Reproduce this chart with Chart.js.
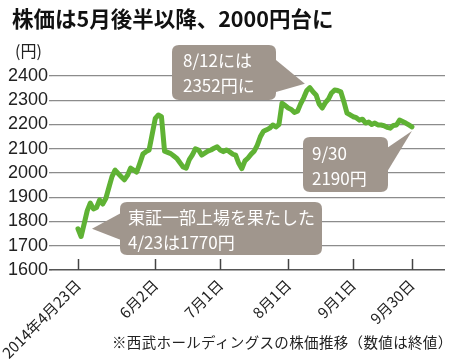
<!DOCTYPE html>
<html><head><meta charset="utf-8">
<script src="https://cdn.jsdelivr.net/npm/chart.js@4"></script>
<style>
html,body{margin:0;padding:0;background:#fff}
#wrap{position:relative;width:450px;height:359px;overflow:hidden;background:#fff}
canvas{position:absolute;left:0;top:0}
.txt{position:absolute;white-space:nowrap;font-family:"Noto Sans CJK JP","Noto Sans",sans-serif;color:#222;line-height:1}
.call{position:absolute;white-space:nowrap;font-family:"Noto Sans CJK JP","Noto Sans",sans-serif;color:#fff;font-size:17px;line-height:25px;font-weight:400}
</style></head>
<body><div id="wrap">
<canvas id="c" width="450" height="359"></canvas>
<div class="txt" style="left:12px;top:7px;font-size:21.5px;font-weight:700;color:#111">株価は5月後半以降、2000円台に</div>
<div class="txt" style="left:15px;top:42px;font-size:16px">(円)</div>
<div class="txt" style="left:112px;top:335px;font-size:14.5px;letter-spacing:0.35px">※西武ホールディングスの株価推移（数値は終値）</div>
<div class="call" style="left:183px;top:47px">8/12には<br>2352円に</div>
<div class="call" style="left:312px;top:140px">9/30<br>2190円</div>
<div class="call" style="left:128px;top:204px">東証一部上場を果たした<br>4/23は1770円</div>
</div>
<script>
// trading-day index (0 = 2014/4/23) and closing prices
const prices = [
1770,1738,1790,1845,1876,1852,1858,1889,1872,1895,
1940,1985,2012,1998,1985,1972,1990,2020,2012,2004,
2040,2078,2088,2095,2160,2225,2239,2232,2090,2085,
2080,2070,2060,2042,2025,2020,2055,2075,2100,2095,
2074,2082,2090,2095,2102,2108,2095,2088,2095,2088,
2078,2074,2040,2018,2050,2062,2078,2090,2115,2150,
2172,2178,2185,2198,2190,2200,2288,2278,2268,2262,
2250,2255,2285,2310,2340,2352,2335,2322,2285,2268,
2290,2305,2330,2342,2340,2335,2294,2247,2240,2232,
2228,2218,2222,2206,2210,2200,2206,2198,2198,2195,
2188,2185,2196,2198,2218,2212,2206,2198,2190];
const tickIdx = [0,25,46,68,89,108];
const tickLabels = ['2014年4月23日','6月2日','7月1日','8月1日','9月1日','9月30日'];
const yTicks = [1600,1700,1800,1900,2000,2100,2200,2300,2400];

const points = prices.map((v,i)=>({x:i,y:v}));

const callouts = [
  {box:[172,45,104,55], idx:75, tri:[[276,60],[-5,-4],[276,92]]},
  {box:[303,137,85,55], idx:108, tri:[[387,148],[0,4],[387,172]]},
  {box:[120,202,202,53], idx:0, tri:[[121,213],[14,0],[121,240]]}
];

function rrect(ctx,x,y,w,h,r){
  ctx.beginPath();
  ctx.moveTo(x+r,y);ctx.lineTo(x+w-r,y);ctx.quadraticCurveTo(x+w,y,x+w,y+r);
  ctx.lineTo(x+w,y+h-r);ctx.quadraticCurveTo(x+w,y+h,x+w-r,y+h);
  ctx.lineTo(x+r,y+h);ctx.quadraticCurveTo(x,y+h,x,y+h-r);
  ctx.lineTo(x,y+r);ctx.quadraticCurveTo(x,y,x+r,y);ctx.closePath();
}

const deco = {
  id:'deco',
  afterDatasetsDraw(chart){
    const ctx = chart.ctx, xs = chart.scales.x, ys = chart.scales.y;
    const bottom = chart.chartArea.bottom;
    ctx.save();
    ctx.strokeStyle='#444';ctx.lineWidth=1.5;
    tickIdx.forEach(t=>{
      const px = Math.round(xs.getPixelForValue(t))+0.5;
      ctx.beginPath();ctx.moveTo(px,bottom);ctx.lineTo(px,bottom-11);ctx.stroke();
    });
    ctx.fillStyle='#a0968d';
    callouts.forEach(c=>{
      const [x,y,w,h]=c.box;
      rrect(ctx,x,y,w,h,7);ctx.fill();
      const tx = xs.getPixelForValue(c.idx)+c.tri[1][0];
      const ty = ys.getPixelForValue(prices[c.idx])+c.tri[1][1];
      ctx.beginPath();ctx.moveTo(c.tri[0][0],c.tri[0][1]);ctx.lineTo(tx,ty);ctx.lineTo(c.tri[2][0],c.tri[2][1]);ctx.closePath();ctx.fill();
    });
    ctx.restore();
  }
};

new Chart(document.getElementById('c'),{
  type:'line',
  data:{datasets:[{data:points,borderColor:'#5fb234',borderWidth:5,pointRadius:0,tension:0,
    borderJoinStyle:'round',borderCapStyle:'round',fill:false}]},
  options:{
    responsive:false,animation:false,devicePixelRatio:1,
    layout:{padding:{top:76,right:5,left:0,bottom:0}},
    plugins:{legend:{display:false},tooltip:{enabled:false}},
    scales:{
      x:{type:'linear',min:-8.4,max:118.7,
        afterBuildTicks:s=>{s.ticks=tickIdx.map(v=>({value:v}));},
        afterFit:s=>{s.height=89;s.paddingLeft=0;s.paddingRight=0;},
        grid:{display:true,drawOnChartArea:false,drawTicks:false},
        border:{display:false},
        ticks:{autoSkip:false,minRotation:45,maxRotation:45,padding:6,color:'#222',
          font:{family:'"Noto Sans CJK JP", sans-serif',size:15},
          callback:v=>tickLabels[tickIdx.indexOf(v)]}
      },
      y:{min:1600,max:2400,
        afterBuildTicks:s=>{s.ticks=yTicks.map(v=>({value:v}));},
        afterFit:s=>{s.width=52;},
        grid:{color:c=>c.tick&&c.tick.value===1600?'#555':'#8c8c8c',lineWidth:c=>c.tick&&c.tick.value===1600?1.6:1.3,tickLength:3,drawTicks:true},
        border:{display:false},
        ticks:{autoSkip:false,padding:1,color:'#222',font:{family:'"Liberation Sans", sans-serif',size:18},
          callback:v=>String(v)}
      }
    }
  },
  plugins:[deco]
});
</script>
</body></html>
